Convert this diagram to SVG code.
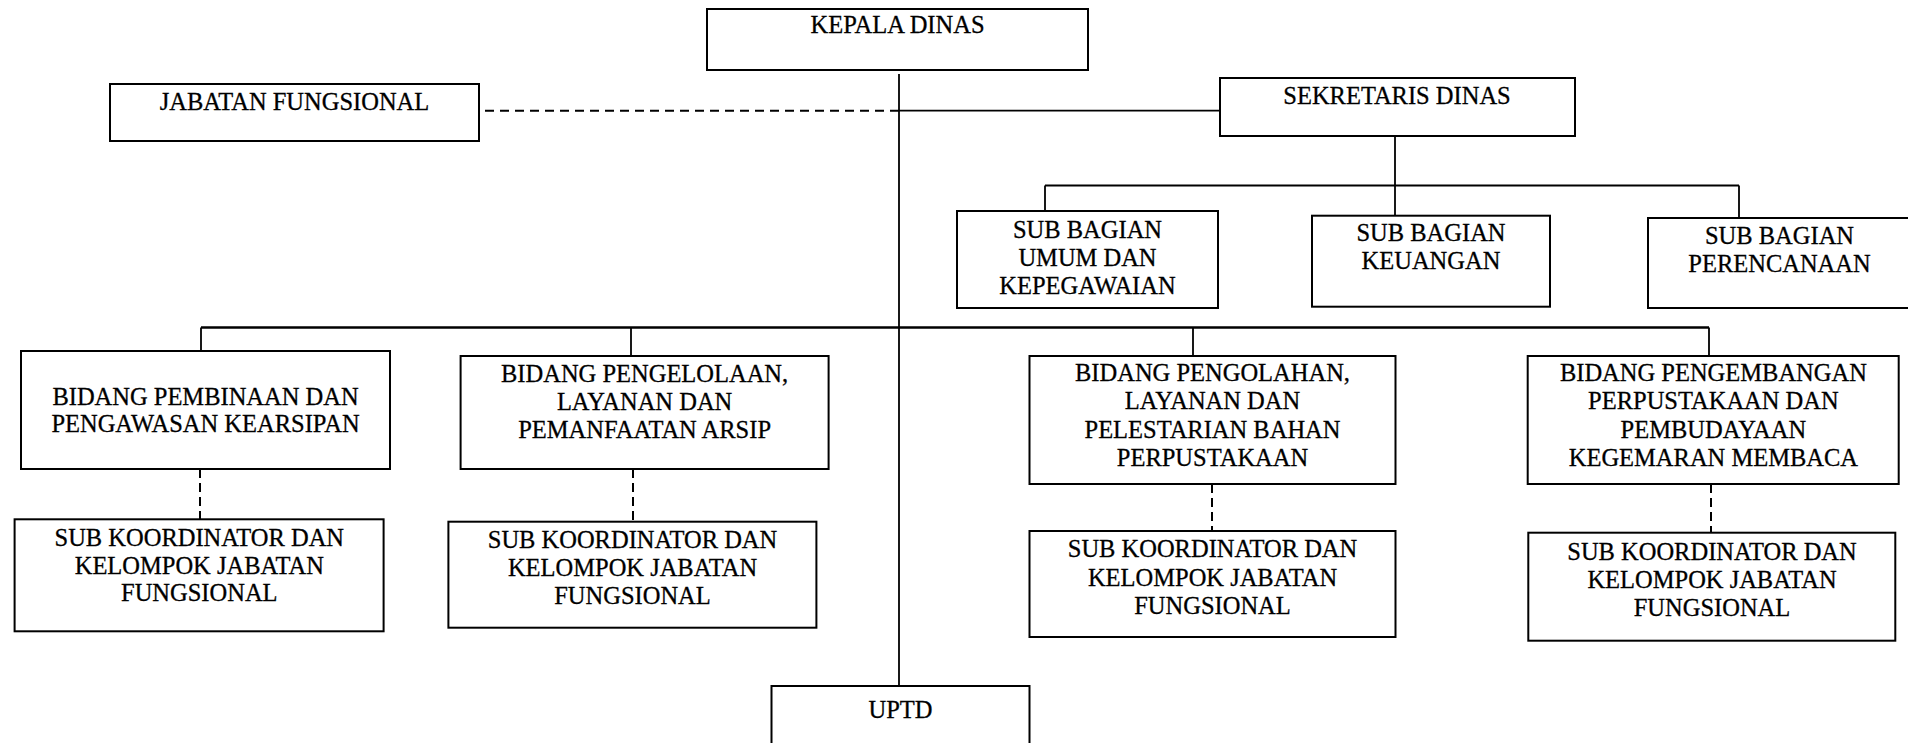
<svg xmlns="http://www.w3.org/2000/svg" width="1908" height="743" viewBox="0 0 1908 743">
<style>
.box{fill:#fff;stroke:#000;stroke-width:2}
.t{font-family:"Liberation Serif","Times New Roman",serif;font-size:24.5px;fill:#000;stroke:#000;stroke-width:0.3;text-anchor:middle}
.c{fill:none;stroke:#000;stroke-width:1.8}
.d{fill:none;stroke:#000;stroke-width:2;stroke-dasharray:9 6}
.dv{fill:none;stroke:#000;stroke-width:2;stroke-dasharray:9 5}
</style>
<rect width="1908" height="743" fill="#fff"/>
<g id="connectors">
<path class="c" d="M899,74V686"/>
<path class="d" d="M485,110.7H899"/>
<path class="c" d="M899,110.7H1220"/>
<path class="c" d="M1395,136V185.5M1045,185.5H1739M1045,185.5V211M1739,185.5V218"/>
<path class="c" d="M1395,185.5V215.7"/>
<path class="c" style="stroke-width:2.4" d="M201,327.5H1709"/>
<path class="c" d="M201,327.5V351M631,327.5V356M1193,327.5V356M1709,327.5V356"/>
<path class="dv" d="M200,469V519M633,469V522M1212,484V531M1711,484V533"/>
</g>
<g id="kepala-dinas"><rect class="box" x="707" y="9" width="381" height="61"/><text class="t" x="897.5" y="33">KEPALA DINAS</text></g>
<g id="jabatan-fungsional"><rect class="box" x="110" y="84" width="369" height="57"/><text class="t" x="294.5" y="110">JABATAN FUNGSIONAL</text></g>
<g id="sekretaris-dinas"><rect class="box" x="1220" y="78" width="355" height="58"/><text class="t" x="1397" y="104">SEKRETARIS DINAS</text></g>
<g id="sub-umum"><rect class="box" x="957" y="211" width="261" height="97"/><text class="t"><tspan x="1087.5" y="237.7">SUB BAGIAN</tspan><tspan x="1087.5" y="265.7">UMUM DAN</tspan><tspan x="1087.5" y="294">KEPEGAWAIAN</tspan></text></g>
<g id="sub-keuangan"><rect class="box" x="1312" y="215.7" width="238" height="91"/><text class="t"><tspan x="1431" y="241">SUB BAGIAN</tspan><tspan x="1431" y="269.3">KEUANGAN</tspan></text></g>
<g id="sub-perencanaan"><rect class="box" x="1648" y="218" width="263" height="90"/><text class="t"><tspan x="1779.5" y="243.7">SUB BAGIAN</tspan><tspan x="1779.5" y="271.7">PERENCANAAN</tspan></text></g>
<g id="bidang-pembinaan"><rect class="box" x="21" y="351" width="369" height="118"/><text class="t"><tspan x="205.5" y="405">BIDANG PEMBINAAN DAN</tspan><tspan x="205.5" y="432.3">PENGAWASAN KEARSIPAN</tspan></text></g>
<g id="bidang-pengelolaan"><rect class="box" x="460.6" y="356" width="368" height="113"/><text class="t"><tspan x="644.6" y="382.3">BIDANG PENGELOLAAN,</tspan><tspan x="644.6" y="410">LAYANAN DAN</tspan><tspan x="644.6" y="437.7">PEMANFAATAN ARSIP</tspan></text></g>
<g id="bidang-pengolahan"><rect class="box" x="1029.5" y="356" width="366" height="128"/><text class="t"><tspan x="1212.5" y="381">BIDANG PENGOLAHAN,</tspan><tspan x="1212.5" y="409.3">LAYANAN DAN</tspan><tspan x="1212.5" y="437.7">PELESTARIAN BAHAN</tspan><tspan x="1212.5" y="465.7">PERPUSTAKAAN</tspan></text></g>
<g id="bidang-pengembangan"><rect class="box" x="1527.7" y="356" width="371" height="128"/><text class="t"><tspan x="1713.4" y="381">BIDANG PENGEMBANGAN</tspan><tspan x="1713.4" y="409.3">PERPUSTAKAAN DAN</tspan><tspan x="1713.4" y="437.7">PEMBUDAYAAN</tspan><tspan x="1713.4" y="465.7">KEGEMARAN MEMBACA</tspan></text></g>
<g id="subkoord-1"><rect class="box" x="14.6" y="519.3" width="369" height="112"/><text class="t"><tspan x="199.3" y="545.7">SUB KOORDINATOR DAN</tspan><tspan x="199.3" y="574">KELOMPOK JABATAN</tspan><tspan x="199.3" y="601">FUNGSIONAL</tspan></text></g>
<g id="subkoord-2"><rect class="box" x="448.4" y="521.7" width="368" height="106"/><text class="t"><tspan x="632.5" y="548.3">SUB KOORDINATOR DAN</tspan><tspan x="632.5" y="576">KELOMPOK JABATAN</tspan><tspan x="632.5" y="604.3">FUNGSIONAL</tspan></text></g>
<g id="subkoord-3"><rect class="box" x="1029.5" y="531" width="366" height="106"/><text class="t"><tspan x="1212.5" y="557.3">SUB KOORDINATOR DAN</tspan><tspan x="1212.5" y="585.7">KELOMPOK JABATAN</tspan><tspan x="1212.5" y="614">FUNGSIONAL</tspan></text></g>
<g id="subkoord-4"><rect class="box" x="1528.3" y="532.7" width="367" height="108"/><text class="t"><tspan x="1712" y="560">SUB KOORDINATOR DAN</tspan><tspan x="1712" y="588">KELOMPOK JABATAN</tspan><tspan x="1712" y="616">FUNGSIONAL</tspan></text></g>
<g id="uptd"><rect class="box" x="771.5" y="686" width="258" height="70"/><text class="t" x="900.5" y="718.3">UPTD</text></g>
</svg>
